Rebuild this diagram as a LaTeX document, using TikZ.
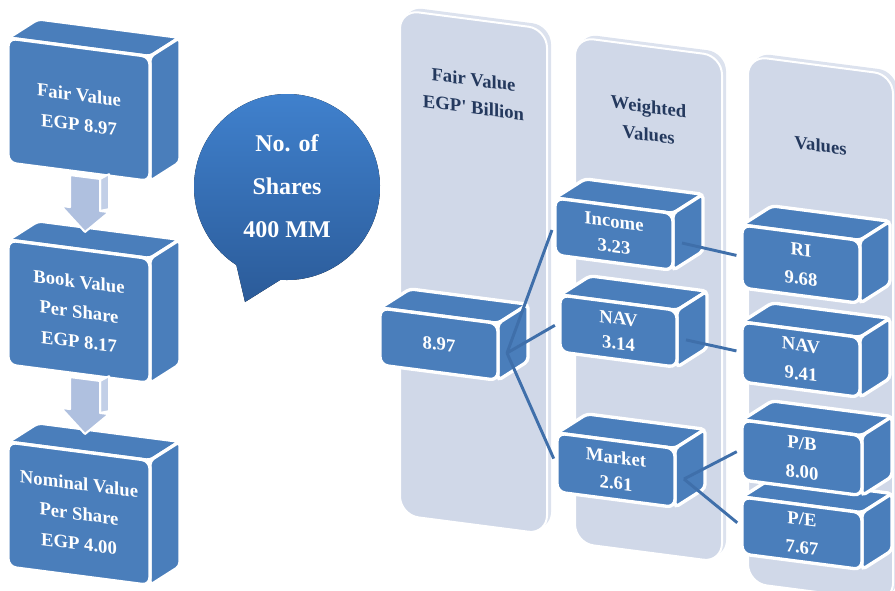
\documentclass[tikz,border=0pt]{standalone}
\usepackage{fontspec}
\setmainfont{Liberation Serif}
\usetikzlibrary{calc}

\definecolor{boxblue}{HTML}{4A7EBB}
\definecolor{panelgray}{HTML}{D0D8E8}
\definecolor{paneledge}{HTML}{DCE2EE}
\definecolor{arrowblue}{HTML}{AFC0DF}
\definecolor{arrowside}{HTML}{C2CFE7}
\definecolor{headnavy}{HTML}{24395E}
\definecolor{linkblue}{HTML}{3F6FAA}
\definecolor{bubbletop}{HTML}{4183D0}
\definecolor{bubblebottom}{HTML}{2B5B99}

\tikzset{every picture/.style={line width=0.75pt}}
\tikzset{
  tilt/.style={yslant=0.13},
  boxside/.style={fill=boxblue,draw=white,line width=2.5pt,rounded corners=3pt},
  boxfront/.style={fill=boxblue,draw=white,line width=2.5pt,rounded corners=6pt,text=white,
    font=\fontsize{14}{19}\selectfont\bfseries,align=center,inner sep=0pt,transform shape,yscale=-1},
  bigtext/.style={font=\fontsize{14}{22.5}\selectfont\bfseries},
  midtext/.style={font=\fontsize{14}{21.5}\selectfont\bfseries},
  panel/.style={fill=panelgray,draw=white,line width=1.5pt,rounded corners=14pt},
  heading/.style={text=headnavy,font=\fontsize{14}{21}\selectfont\bfseries,align=center,transform shape,yscale=-1},
  link/.style={draw=linkblue,line width=2.2pt,shorten >=3pt},
  downarrow/.style={fill=arrowblue,draw=white,line width=1.5pt,line join=round},
  bubbletext/.style={text=white,font=\fontsize{18}{32}\selectfont\bfseries,align=center}
}

% 3D value box: [text style] name, x, y, width, height, text
\newcommand{\valbox}[7][]{%
  \begin{scope}[shift={(#3,#4)},tilt]
    \draw[boxside] (0,0) -- ++(30,-23) -- ++(#5,0) -- ++(-30,23) -- cycle;
    \draw[boxside] (#5,0) -- ++(30,-23) -- ++(0,#6) -- ++(-30,23) -- cycle;
    \node[boxfront,#1,minimum width=#5*0.75pt,minimum height=#6*0.75pt] (#2) at (#5/2,#6/2) {#7};
    \coordinate (#2-r) at (#5+9,#6/2);
  \end{scope}}

% column panel: name, x, y, width, height, heading y, heading
\newcommand{\panelcol}[7]{%
  \begin{scope}[shift={(#2,#3)},tilt]
    \fill[paneledge,rounded corners=14pt] (4,-4) rectangle ++(#4,#5);
    \draw[panel] (0,0) rectangle (#4,#5);
    \node[heading] (#1) at (#4/2,#6) {#7};
  \end{scope}}

% block arrow under a box
\newcommand{\flowarrow}[2]{%
  \begin{scope}[shift={(#1,#2)},tilt]
    \draw[downarrow,fill=arrowside] (92,129) -- ++(9,-6) -- ++(0,35) -- (92,161) -- cycle;
    \draw[downarrow] (62,129) -- (92,129) -- (92,161) -- (101,161) -- (77,184) -- (53,161) -- (62,161) -- cycle;
  \end{scope}}

\begin{document}
\begin{tikzpicture}[x=0.75pt,y=0.75pt,yscale=-1,xscale=1]
\useasboundingbox (0,0) rectangle (895,590);

%Shape: Panels
\panelcol{hfv}{400}{10}{147}{505}{74}{Fair Value\\EGP\textquotesingle{} Billion}
\panelcol{hwv}{575}{37}{147}{506}{74}{Weighted\\Values}
\panelcol{hval}{748}{56}{145}{527}{80}{Values}

%Shape: Speech bubble
\fill[top color=bubbletop,bottom color=bubblebottom] (287,187) ++(123:93) arc[start angle=123,end angle=454,radius=93] -- (245,302) -- cycle;
% Text Node
\node[bubbletext] (shares) at (287,186) {No. of\\Shares\\400 MM};

%Shape: Left boxes
\valbox[bigtext]{fair}{8}{38}{142}{125}{Fair Value\\EGP 8.97}
\valbox[bigtext]{book}{8}{240}{142}{125}{Book Value\\Per Share\\EGP 8.17}
\valbox[bigtext]{nominal}{8}{442}{142}{125}{Nominal Value\\Per Share\\EGP 4.00}
\flowarrow{8}{38}
\flowarrow{8}{240}

%Shape: Fair value and weighted values
\valbox{fv}{380}{308}{118}{57}{8.97}
\valbox{mkt}{557}{433}{118}{59}{Market\\2.61}
\valbox{navw}{560}{295}{117}{57}{NAV\\3.14}
\valbox{inc}{555}{198}{118}{57}{Income\\3.23}

%Shape: Values
\valbox[midtext]{pe}{742}{497}{120}{57}{P/E\\7.67}
\valbox[midtext]{pb}{742}{420}{120}{60}{P/B\\8.00}
\valbox[midtext]{navv}{742}{322}{118}{60}{NAV\\9.41}
\valbox[midtext]{ri}{742}{225}{118}{63}{RI\\9.68}

%Straight Lines
\draw[link] (fv-r) -- (inc.west);
\draw[link] (fv-r) -- (navw.west);
\draw[link] (fv-r) -- (mkt.west);
\draw[link] (inc-r) -- (ri.west);
\draw[link] (navw-r) -- (navv.west);
\draw[link] (mkt-r) -- (pb.west);
\draw[link] (mkt-r) -- (pe.west);

\end{tikzpicture}
\end{document}
